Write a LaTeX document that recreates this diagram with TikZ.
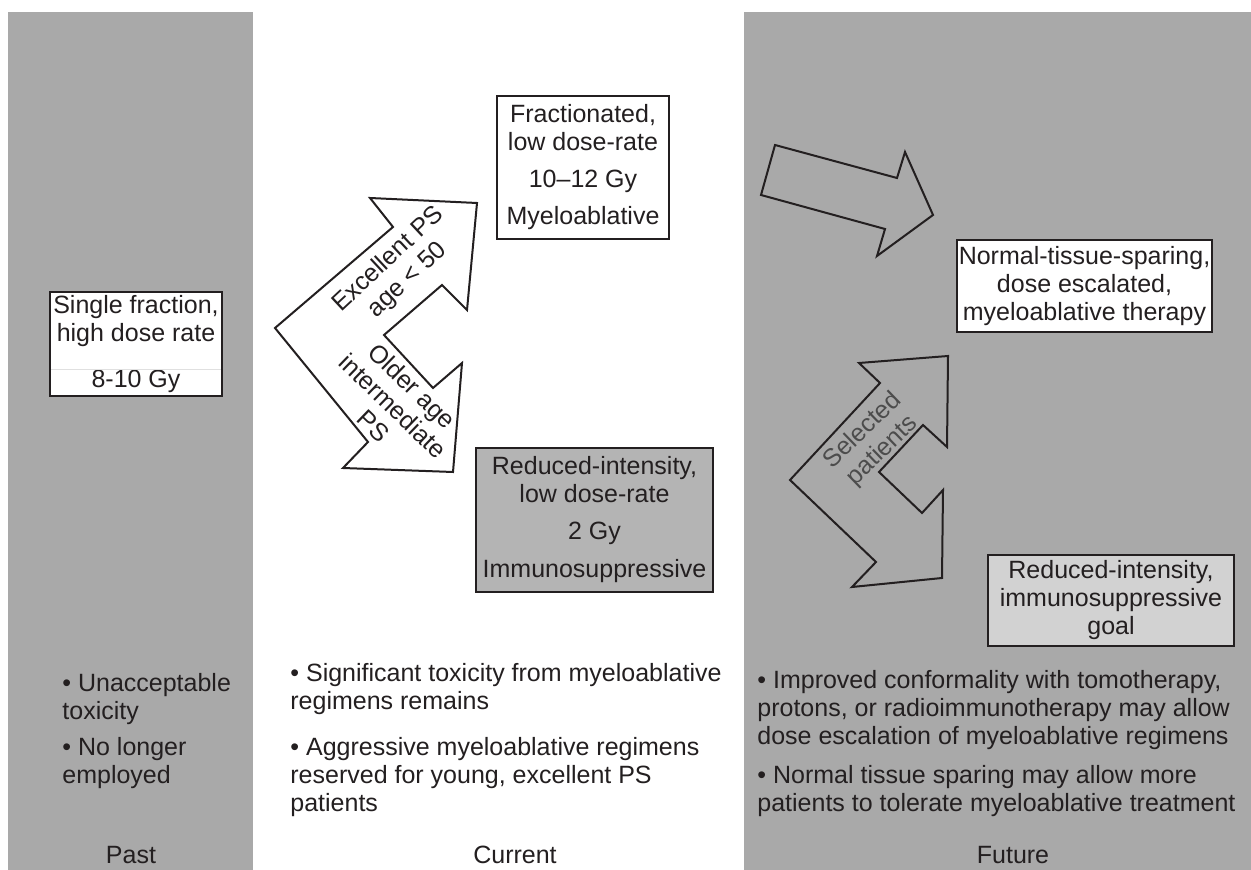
\documentclass[tikz,border=0pt]{standalone}
\usepackage{fontspec}
\setmainfont{Liberation Sans}
\usepackage{tikz}
\usetikzlibrary{positioning}

\definecolor{colgray}{RGB}{169,169,169}
\definecolor{inkgray}{RGB}{35,31,32}
\definecolor{dotgray}{RGB}{180,180,180}
\definecolor{palegray}{RGB}{210,210,210}

\tikzset{
  stagebox/.style={draw=inkgray, line width=1pt, inner sep=0pt, align=center, text=inkgray},
  bigarrow/.style={draw=inkgray, line width=1pt, line join=miter},
  arrowtext/.style={align=center, inner sep=0pt, text=inkgray},
  notes/.style={anchor=north west, inner sep=0pt, align=left, text=inkgray},
}

\begin{document}
\begin{tikzpicture}[x=0.5pt,y=-0.5pt,font=\fontsize{12.5}{14}\selectfont]
      \useasboundingbox (0,0) rectangle (1251,870);
      \fill[white] (0,0) rectangle (1251,870);
      \fill[colgray] (8,12) rectangle (253,870);
      \fill[colgray] (744,12) rectangle (1251,870);

      % past
      \node[stagebox, fill=white, minimum width=86pt, minimum height=52pt] (single) at (136,344) {Single fraction,\\ high dose rate\\[9pt] 8-10 Gy};
      \draw[black!12] (51,369) -- (221,369);

      % current
      \draw[bigarrow, fill=white] (275,328) -- (393,227) -- (370,198) -- (477,203) -- (467,310) -- (442,285)
        -- (384,335) -- (433,388) -- (462,363) -- (453,472) -- (343,468) -- (368,442) -- cycle;
      \node[arrowtext, rotate=43] (excellent) at (398,270) {Excellent PS\\ age < 50};
      \node[arrowtext, rotate=-44] (older) at (393,406) {Older age\\ intermediate\\ PS};
      \node[stagebox, fill=white, minimum width=86pt, minimum height=71.5pt] (fract) at (583,167.5) {Fractionated,\\ low dose-rate\\[4.5pt] 10--12 Gy\\[4.5pt] Myeloablative};
      \node[stagebox, fill=dotgray, minimum width=118.5pt, minimum height=72pt] (reduced) at (594.5,520) {Reduced-intensity,\\ low dose-rate\\[4.5pt] 2 Gy\\[5pt] Immunosuppressive};

      % future
      \draw[bigarrow] (761,195) -- (775,145) -- (897,178) -- (905,152) -- (933,215) -- (877,256) -- (885,229) -- cycle;
      \draw[bigarrow] (790,480) -- (880,383) -- (859,363) -- (948,356) -- (947,447) -- (923,425)
        -- (879,472) -- (922,513) -- (943,490) -- (942,578) -- (852,587) -- (876,562) -- cycle;
      \node[arrowtext, rotate=44, text=black!70] (selected) at (873,441) {Selected\\ patients};
      \node[stagebox, fill=white, minimum width=127.5pt, minimum height=46pt] (sparing) at (1084.5,286) {Normal-tissue-sparing,\\ dose escalated,\\ myeloablative therapy};
      \node[stagebox, fill=palegray, minimum width=123pt, minimum height=45.5pt] (goal) at (1111,600.5) {Reduced-intensity,\\ immunosuppressive\\ goal};

      % notes and column labels
      \node[notes] (pastnotes) at (62,673) {\textbullet\ Unacceptable\\ toxicity\\[4pt] \textbullet\ No longer\\ employed};
      \node[notes] (currentnotes) at (290,663) {\textbullet\ Significant toxicity from myeloablative\\ regimens remains\\[9pt] \textbullet\ Aggressive myeloablative regimens\\ reserved for young, excellent PS\\ patients};
      \node[notes] (futurenotes) at (757,670) {\textbullet\ Improved conformality with tomotherapy,\\ protons, or radioimmunotherapy may allow\\ dose escalation of myeloablative regimens\\[5.5pt] \textbullet\ Normal tissue sparing may allow more\\ patients to tolerate myeloablative treatment};
      \node[text=inkgray] (past) at (131,855) {Past};
      \node[text=inkgray] (current) at (515,855) {Current};
      \node[text=inkgray] (future) at (1013,855) {Future};
\end{tikzpicture}
\end{document}
